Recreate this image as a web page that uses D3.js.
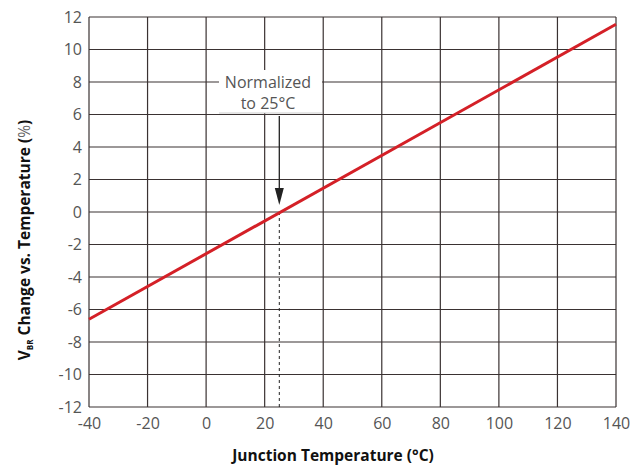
<!DOCTYPE html>
<html><head><meta charset="utf-8">
<script src="https://cdn.jsdelivr.net/npm/d3@7/dist/d3.min.js"></script>
<style>body{margin:0;background:#fff}svg{display:block}</style>
</head><body><svg id="c" width="643" height="468"></svg>
<script>
const xTicks = [-40,-20,0,20,40,60,80,100,120,140];
const yTicks = [12,10,8,6,4,2,0,-2,-4,-6,-8,-10,-12];
const lineTemp = [-40, 140];
const lineChange = [-6.6, 11.55];
const normTemp = 25;
const noteLines = ["Normalized","to 25°C"];

const svg = d3.select("#c");
const m = {l:89, r:616, t:17, b:407};
const x = d3.scaleLinear().domain([-40,140]).range([m.l,m.r]);
const y = d3.scaleLinear().domain([-12,12]).range([m.b,m.t]);
const gridC = "#3a3232";
const font = "'Open Sans', sans-serif";

// grid
svg.append("g").selectAll("line").data(yTicks).join("line")
  .attr("x1",m.l).attr("x2",m.r).attr("y1",d=>y(d)).attr("y2",d=>y(d))
  .attr("stroke",gridC).attr("stroke-width",1.2);
svg.append("g").selectAll("line").data(xTicks).join("line")
  .attr("y1",m.t).attr("y2",m.b).attr("x1",d=>x(d)).attr("x2",d=>x(d))
  .attr("stroke",gridC).attr("stroke-width",1.2);

// axes labels
const xa = svg.append("g").attr("transform",`translate(0,${m.b})`)
  .call(d3.axisBottom(x).tickValues(xTicks).tickSize(0).tickPadding(11).tickFormat(d=>String(d)));
xa.select(".domain").remove();
xa.selectAll("text").attr("font-family",font).attr("font-size",16).attr("fill","#555");
const ya = svg.append("g").attr("transform",`translate(${m.l},0)`)
  .call(d3.axisLeft(y).tickValues(yTicks).tickSize(0).tickPadding(7).tickFormat(d=>String(d)));
ya.select(".domain").remove();
ya.selectAll("text").attr("font-family",font).attr("font-size",16).attr("fill","#555");

// annotation box
svg.append("rect").attr("x",219).attr("y",70).attr("width",103).attr("height",43).attr("fill","#fff");
svg.append("line").attr("x1",219).attr("x2",322).attr("y1",113).attr("y2",113).attr("stroke","#ccc").attr("stroke-width",1);
svg.append("g").selectAll("text").data(noteLines).join("text")
  .attr("x",268).attr("y",(d,i)=>88+i*21).attr("text-anchor","middle")
  .attr("font-family",font).attr("font-size",16).attr("fill","#555").text(d=>d);

// arrow
const ax = x(normTemp);
svg.append("line").attr("x1",ax).attr("x2",ax).attr("y1",116).attr("y2",190).attr("stroke","#222").attr("stroke-width",1.3);
svg.append("path").attr("d",`M${ax-4.5},188 L${ax+4.5},188 L${ax},205 Z`).attr("fill","#222");
svg.append("line").attr("x1",ax).attr("x2",ax).attr("y1",y(0)).attr("y2",m.b)
  .attr("stroke","#222").attr("stroke-width",1).attr("stroke-dasharray","3,3");

// data line
svg.append("path").datum(lineTemp.map((t,i)=>[t,lineChange[i]]))
  .attr("d",d3.line().x(d=>x(d[0])).y(d=>y(d[1])))
  .attr("fill","none").attr("stroke","#d42027").attr("stroke-width",3);

// titles
svg.append("text").attr("x",333).attr("y",461).attr("text-anchor","middle")
  .attr("font-family",font).attr("font-weight","bold").attr("font-size",15.5).attr("fill","#111")
  .text("Junction Temperature (°C)");
const yt = svg.append("text").attr("transform","translate(30,240) rotate(-90)").attr("text-anchor","middle")
  .attr("font-family",font).attr("font-weight","bold").attr("font-size",15.5).attr("fill","#111");
yt.append("tspan").text("V");
yt.append("tspan").attr("font-size",8).attr("dy",3).text("BR");
yt.append("tspan").attr("dy",-3).text(" Change vs. Temperature (");
yt.append("tspan").attr("font-weight","normal").attr("fill","#666").text("%");
yt.append("tspan").text(")");
</script></body></html>
